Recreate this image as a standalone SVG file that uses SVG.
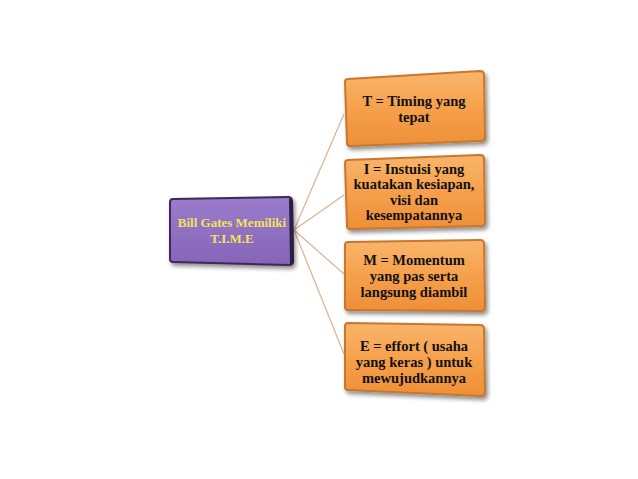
<svg xmlns="http://www.w3.org/2000/svg" width="638" height="479" viewBox="0 0 638 479">
<defs>
<linearGradient id="og" x1="0" y1="0" x2="0" y2="1">
<stop offset="0" stop-color="#f9b56a"/>
<stop offset="0.5" stop-color="#f6a04c"/>
<stop offset="1" stop-color="#ee8f38"/>
</linearGradient>
<linearGradient id="pg" x1="0" y1="0" x2="0" y2="1">
<stop offset="0" stop-color="#9a7ccc"/>
<stop offset="1" stop-color="#8764b8"/>
</linearGradient>
<filter id="sh" x="-10%" y="-10%" width="130%" height="130%">
<feGaussianBlur in="SourceAlpha" stdDeviation="2"/>
<feOffset dx="2" dy="3"/>
<feComponentTransfer><feFuncA type="linear" slope="0.45"/></feComponentTransfer>
<feMerge><feMergeNode/><feMergeNode in="SourceGraphic"/></feMerge>
</filter>
</defs>
<style>
.ob{fill:url(#og);stroke:#c9772e;stroke-width:2;stroke-linejoin:round;filter:url(#sh)}
.pb{fill:url(#pg);stroke:#3a2a5a;stroke-width:2;stroke-linejoin:round;filter:url(#sh)}
.t{font-family:"Liberation Serif","Times New Roman",serif;font-weight:bold;font-size:14.5px;fill:#111;text-anchor:middle}
.pt{font-family:"Liberation Serif","Times New Roman",serif;font-weight:bold;font-size:13px;fill:#f2e35a;text-anchor:middle}
.c{stroke:#d9b48c;stroke-width:1.2;fill:none}
</style>
<rect width="638" height="479" fill="#ffffff"/>
<g id="connectors">
<line class="c" x1="294" y1="230" x2="344" y2="114"/>
<line class="c" x1="294" y1="230" x2="344" y2="195"/>
<line class="c" x1="294" y1="230" x2="344" y2="274"/>
<line class="c" x1="294" y1="230" x2="344" y2="354"/>
</g>
<g id="root">
<path class="pb" d="M173 199 L288 197 Q292 197 292 201 L293 261 Q293 265 289 265 L173 262 Q170 262 170 259 L170 202 Q170 199 173 199 Z"/>
<path d="M289 198 L293 201 L294 263 L290 265 Z" fill="#2a1e45"/>
<text class="pt" x="232" y="227">Bill Gates Memiliki</text>
<text class="pt" x="232" y="243">T.I.M.E</text>
</g>
<g id="n1">
<path class="ob" d="M348 79 L480 71 Q484 71 484 75 L485 137 Q485 141 481 141 L350 146 Q347 146 347 143 L345 82 Q345 79 348 79 Z"/>
<text class="t" x="414" y="106">T = Timing yang</text>
<text class="t" x="414" y="122">tepat</text>
</g>
<g id="n2">
<path class="ob" d="M348 160 L480 155 Q484 155 484 159 L485 222 Q485 226 481 226 L350 229 Q347 229 347 226 L345 163 Q345 160 348 160 Z"/>
<text class="t" x="414" y="174">I = Instuisi yang</text>
<text class="t" x="414" y="189">kuatakan kesiapan,</text>
<text class="t" x="414" y="205">visi dan</text>
<text class="t" x="414" y="220">kesempatannya</text>
</g>
<g id="n3">
<path class="ob" d="M348 242 L480 240 Q484 240 484 244 L485 307 Q485 311 481 311 L348 310 Q345 310 345 307 L345 245 Q345 242 348 242 Z"/>
<text class="t" x="414" y="265">M = Momentum</text>
<text class="t" x="414" y="281">yang pas serta</text>
<text class="t" x="414" y="297">langsung diambil</text>
</g>
<g id="n4">
<path class="ob" d="M348 323 L480 325 Q484 325 484 329 L485 392 Q485 396 481 396 L348 390 Q345 390 345 387 L345 326 Q345 323 348 323 Z"/>
<text class="t" x="414" y="351">E = effort ( usaha</text>
<text class="t" x="414" y="367">yang keras ) untuk</text>
<text class="t" x="414" y="383">mewujudkannya</text>
</g>
</svg>
